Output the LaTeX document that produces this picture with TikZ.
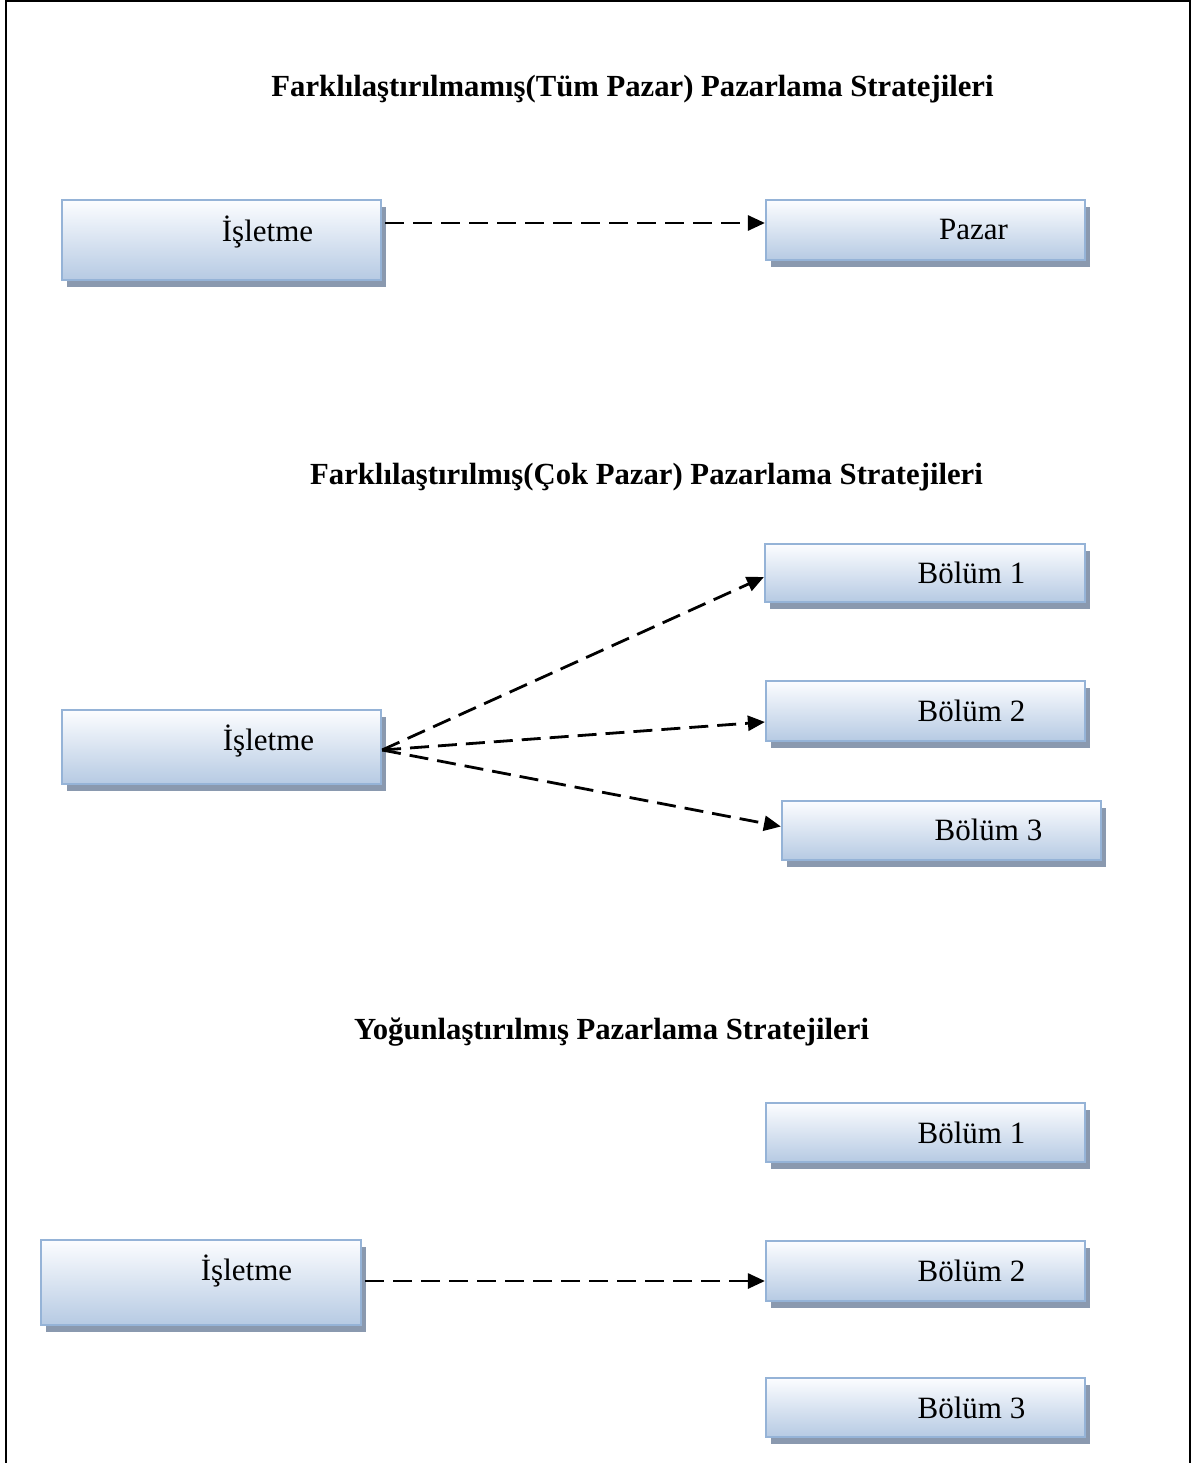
\documentclass[tikz,border=0pt]{standalone}
\usepackage{fontspec}
\setmainfont{Liberation Serif}
\usetikzlibrary{shadows,arrows.meta,calc}

\definecolor{boxline}{HTML}{95B3D7}
\definecolor{boxtop}{HTML}{FCFDFF}
\definecolor{boxbot}{HTML}{B6CAE3}
\definecolor{shadowc}{HTML}{8A99AF}

\tikzset{
  stratbox/.style={rectangle, draw=boxline, line width=2.2pt, inner sep=0pt,
    top color=boxtop, bottom color=boxbot,
    drop shadow={shadow xshift=5pt, shadow yshift=-7pt, fill=shadowc, opacity=1}},
  boxtext/.style={anchor=base, inner sep=0pt, font=\fontsize{31}{37}\selectfont},
  heading/.style={anchor=base, inner sep=0pt, font=\fontsize{30.7}{37}\selectfont\bfseries},
  conn/.style={line width=2.8pt, dash pattern=on 19pt off 9pt,
    -{Triangle[length=17pt,width=15pt]}},
}

\begin{document}
\begin{tikzpicture}[x=1pt, y=-1pt]
  \useasboundingbox (0,0) rectangle (1192,1463);
  % outer frame (open at the bottom)
  \draw[line width=2pt] (6,1463) -- (6,1.5) -- (1190,1.5) -- (1190,1463);

  % --- undifferentiated ---
  \node[heading] (t1) at (632.5,97) {Farklılaştırılmamış(Tüm Pazar) Pazarlama Stratejileri};
  \node[stratbox, minimum width=319pt, minimum height=80pt] (a1) at (221.5,240) {};
  \node[boxtext] (a1t) at (267.5,242) {İşletme};
  \node[stratbox, minimum width=319pt, minimum height=60pt] (p1) at (925.5,230) {};
  \node[boxtext] (p1t) at (973.5,240) {Pazar};
  \draw[conn] ($(a1.east)+(3,-17)$) -- ($(p1.west)+(0,-7)$);

  % --- differentiated ---
  \node[heading] (t2) at (646.5,484) {Farklılaştırılmış(Çok Pazar) Pazarlama Stratejileri};
  \node[stratbox, minimum width=319pt, minimum height=74pt] (a2) at (221.5,747) {};
  \node[boxtext] (a2t) at (268.5,750) {İşletme};
  \node[stratbox, minimum width=320pt, minimum height=58pt] (b1) at (925,573) {};
  \node[boxtext] (b1t) at (971.5,583) {Bölüm 1};
  \node[stratbox, minimum width=319pt, minimum height=60pt] (b2) at (925.5,711) {};
  \node[boxtext] (b2t) at (971.5,721) {Bölüm 2};
  \node[stratbox, minimum width=319pt, minimum height=59pt] (b3) at (941.5,830.5) {};
  \node[boxtext] (b3t) at (988.5,840) {Bölüm 3};
  \coordinate (hub) at ($(a2.east)+(0,3)$);
  \draw[conn] (hub) -- ($(b1.west)+(0,4)$);
  \draw[conn] (hub) -- ($(b2.west)+(0,11)$);
  \draw[conn] (hub) -- ($(b3.west)+(0,-4)$);

  % --- concentrated ---
  \node[heading] (t3) at (611.5,1039) {Yoğunlaştırılmış Pazarlama Stratejileri};
  \node[stratbox, minimum width=320pt, minimum height=85pt] (a3) at (201,1282.5) {};
  \node[boxtext] (a3t) at (246.5,1280) {İşletme};
  \node[stratbox, minimum width=319pt, minimum height=59pt] (c1) at (925.5,1132.5) {};
  \node[boxtext] (c1t) at (971.5,1143) {Bölüm 1};
  \node[stratbox, minimum width=319pt, minimum height=60pt] (c2) at (925.5,1271) {};
  \node[boxtext] (c2t) at (971.5,1281) {Bölüm 2};
  \node[stratbox, minimum width=319pt, minimum height=59pt] (c3) at (925.5,1407.5) {};
  \node[boxtext] (c3t) at (971.5,1418) {Bölüm 3};
  \draw[conn] ($(a3.east)+(3,-1.5)$) -- ($(c2.west)+(0,10)$);
\end{tikzpicture}
\end{document}
